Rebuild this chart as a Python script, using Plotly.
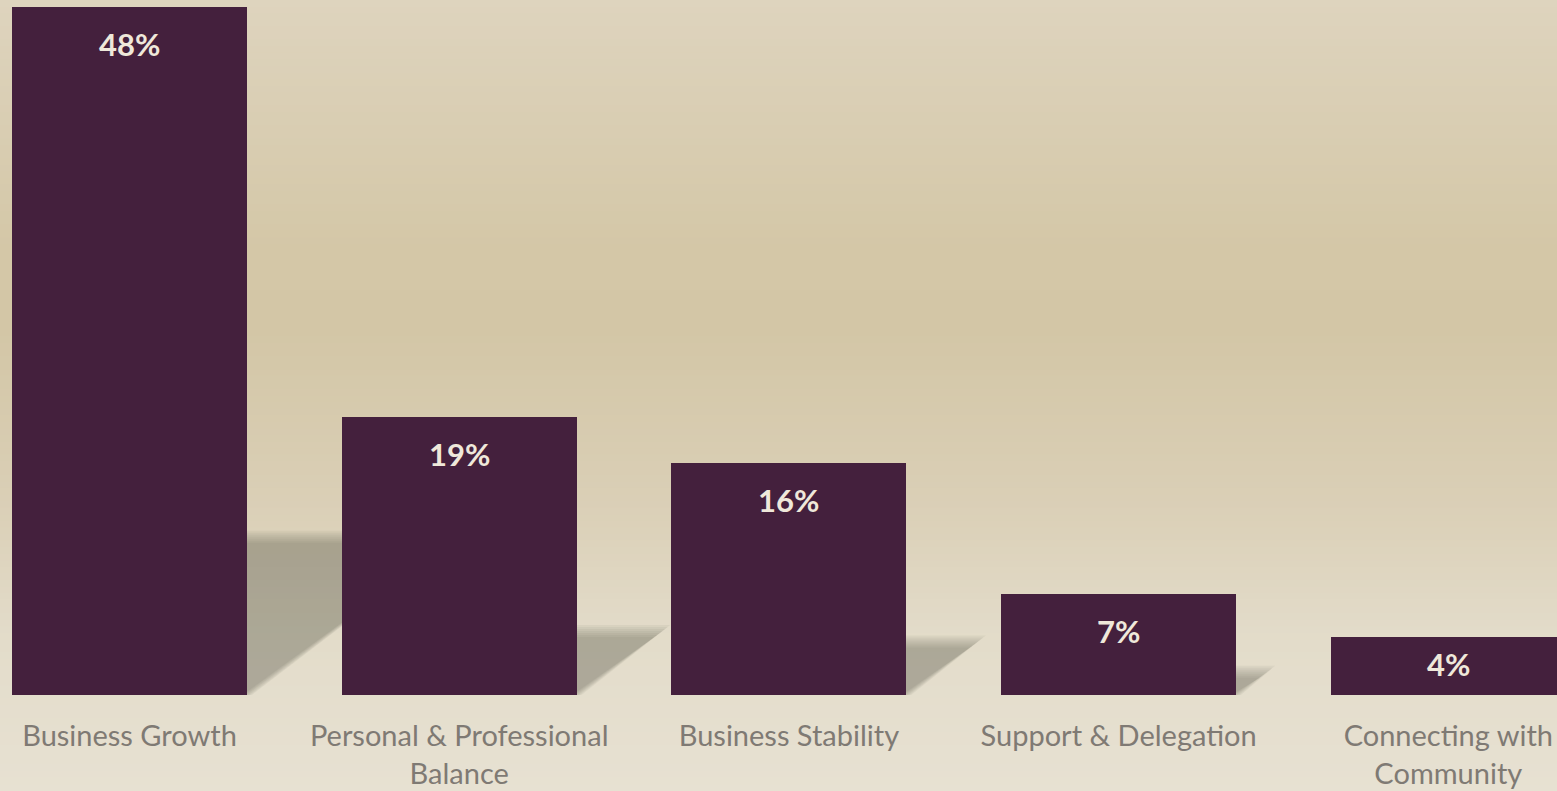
import plotly.graph_objects as go

categories = ["Business Growth", "Personal & Professional<br>Balance", "Business Stability",
              "Support & Delegation", "Connecting with<br>Community"]
values = [48.0, 19.4, 16.2, 7.05, 4.05]
labels = ["48%", "19%", "16%", "7%", "4%"]

BAR_W = 0.713
FIG_W, FIG_H = 1557, 791
M_B = 96
PLOT_H = FIG_H - M_B
Y_MAX = 48.0 * PLOT_H / 688.0
X0 = -0.3928
X1 = X0 + FIG_W / 329.7

fig = go.Figure()
x_idx = list(range(len(categories)))
fig.add_trace(go.Bar(
    x=x_idx, y=values, width=BAR_W,
    marker=dict(color="#44203D", line=dict(width=0)),
    hoverinfo="skip", showlegend=False,
))

shapes = []
# background vertical gradient
stops = [(0, (222, 212, 190)), (250, (212, 199, 167)), (330, (211, 198, 166)),
         (500, (218, 207, 182)), (640, (227, 220, 202)), (791, (231, 225, 210))]
def col_at(py):
    for (a, ca), (b, cb) in zip(stops[:-1], stops[1:]):
        if a <= py <= b:
            t = (py - a) / (b - a)
            return tuple(round(ca[k] + (cb[k] - ca[k]) * t) for k in range(3))
    return stops[-1][1]
N = 120
for i in range(N):
    p0 = FIG_H * i / N
    p1 = FIG_H * (i + 1) / N
    c = col_at((p0 + p1) / 2)
    y_top = 1 - p0 / PLOT_H
    y_bot = 1 - (p1 + 1) / PLOT_H
    shapes.append(dict(type="rect", xref="paper", yref="paper", x0=-0.01, x1=1.01,
                       y0=y_bot, y1=y_top, fillcolor="rgb(%d,%d,%d)" % c,
                       line=dict(width=0), layer="below"))

# shadows derived from bar values
px_per_y = PLOT_H / Y_MAX
px_per_x = FIG_W / (X1 - X0)
for i, v in enumerate(values):
    xr = i + BAR_W / 2
    hs = 0.23 * v
    dx_px = 1.34 * hs * px_per_y
    for e in [6, 4, 2, 0, -2, -4, -6]:
        top = hs + e / px_per_y
        right = xr + (dx_px + e * 1.3) / px_per_x
        xl = xr - 3 / px_per_x
        path = "M %f,%f L %f,%f L %f,%f L %f,%f Z" % (xl, 0, xl, top, right, top, xr + (e * 0.8) / px_per_x, 0)
        shapes.append(dict(type="path", xref="x", yref="y", path=path,
                           fillcolor="rgba(95,88,72,0.065)", line=dict(width=0), layer="below"))

annotations = []
for i, (v, lab) in enumerate(zip(values, labels)):
    bar_px = v * px_per_y
    shift = min(37, bar_px / 2 - 2)
    annotations.append(dict(x=i, y=v, xref="x", yref="y", text="<b>%s</b>" % lab,
                            showarrow=False, yanchor="middle", yshift=-shift,
                            font=dict(family="Lato", size=31, color="#EFE8DA")))

fig.update_layout(
    width=FIG_W, height=FIG_H,
    margin=dict(l=0, r=0, t=0, b=M_B, pad=0),
    paper_bgcolor="#E3DCC8", plot_bgcolor="rgba(0,0,0,0)",
    shapes=shapes, annotations=annotations,
    xaxis=dict(range=[X0, X1], tickmode="array", tickvals=x_idx, ticktext=categories,
               showgrid=False, zeroline=False, showline=False, ticks="",
               ticklabelstandoff=21,
               tickfont=dict(family="Lato", size=29, color="#7F7A74"), automargin=False,
               fixedrange=True),
    yaxis=dict(range=[0, Y_MAX], visible=False, showgrid=False, zeroline=False, automargin=False,
               fixedrange=True),
    bargap=0, showlegend=False, template="none",
)
fig.write_html("out.html", config={"displayModeBar": False},
               post_script="document.body.style.margin='0';document.body.style.overflow='hidden';")
